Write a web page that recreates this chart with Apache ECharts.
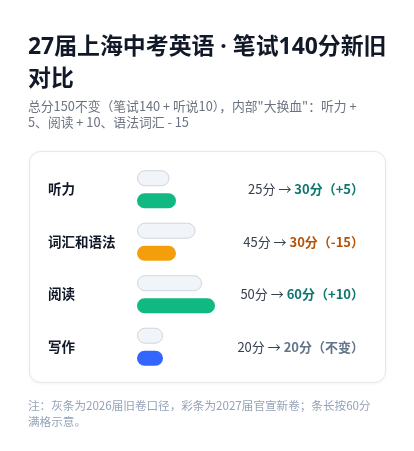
<!DOCTYPE html>
<html>
<head>
<meta charset="utf-8">
<script src="https://cdn.jsdelivr.net/npm/echarts@6/dist/echarts.min.js"></script>
<style>
html,body{margin:0;padding:0;background:#fff;}
#c{width:414px;height:451px;}
</style>
</head>
<body>
<div id="c"></div>
<script>
const categories = ['听力', '词汇和语法', '阅读', '写作'];
const oldScores = [25, 45, 50, 20];
const newScores = [30, 30, 60, 20];
const newColors = ['#10b981', '#f59e0b', '#10b981', '#3366ff'];
const fullScore = 60;
const titleText = '27届上海中考英语 · 笔试140分新旧\n对比';
const subtitleText = '总分150不变（笔试140 + 听说10），内部"大换血"：听力 +\n5、阅读 + 10、语法词汇 - 15';
const noteText = '注：灰条为2026届旧卷口径，彩条为2027届官宣新卷；条长按60分\n满格示意。';

const FONT = '"Noto Sans CJK SC", "Noto Sans", sans-serif';
const LATIN_FIRST = '"Noto Sans", "Noto Sans CJK SC", sans-serif';

const rightLabels = categories.map((c, i) => {
  const d = newScores[i] - oldScores[i];
  let style, tail;
  if (d > 0) { style = 'up'; tail = '（+' + d + '）'; }
  else if (d < 0) { style = 'down'; tail = '（-' + Math.abs(d) + '）'; }
  else { style = 'same'; tail = '（不变）'; }
  return '{base|' + oldScores[i] + '分 → }{' + style + '|' + newScores[i] + '分' + tail + '}';
});

const chart = echarts.init(document.getElementById('c'), null, {renderer: 'canvas'});
chart.setOption({
  backgroundColor: '#ffffff',
  animation: false,
  textStyle: {fontFamily: FONT},
  graphic: [
    {type: 'rect', z: 0, shape: {x: 29.5, y: 151.5, width: 356, height: 231, r: 11},
     style: {fill: '#ffffff', stroke: '#e5e7eb', lineWidth: 1, shadowBlur: 4, shadowColor: 'rgba(15,23,42,0.04)', shadowOffsetY: 1}},
    {type: 'text', left: 28, top: 31,
     style: {text: titleText, font: 'bold 22.9px ' + LATIN_FIRST, fill: '#111827', lineHeight: 32}},
    {type: 'text', left: 28, top: 98,
     style: {text: subtitleText, font: '12.8px ' + FONT, fill: '#6b7280', lineHeight: 16}},
    {type: 'text', left: 28, top: 397,
     style: {text: noteText, font: '11.6px ' + FONT, fill: '#94a3b8', lineHeight: 16.5}}
  ],
  grid: {left: 137, top: 163, width: 78, height: 210, containLabel: false},
  xAxis: {type: 'value', min: 0, max: fullScore, show: false},
  yAxis: [
    {type: 'category', data: categories, inverse: true,
     axisLine: {show: false}, axisTick: {show: false}, splitLine: {show: false},
     axisLabel: {align: 'left', margin: 89, fontSize: 13.5, fontWeight: 'bold', color: '#111827', fontFamily: FONT}},
    {type: 'category', data: rightLabels, inverse: true, position: 'right',
     axisLine: {show: false}, axisTick: {show: false}, splitLine: {show: false},
     axisLabel: {align: 'right', margin: 149, fontFamily: FONT,
       rich: {
         base: {fontSize: 13, color: '#374151', fontFamily: FONT},
         up: {fontSize: 13, color: '#0f766e', fontWeight: 'bold', fontFamily: FONT},
         down: {fontSize: 13, color: '#b45309', fontWeight: 'bold', fontFamily: FONT},
         same: {fontSize: 13, color: '#64748b', fontWeight: 'bold', fontFamily: FONT}
       }}}
  ],
  series: [
    {name: '2026旧卷', type: 'bar', yAxisIndex: 0, data: oldScores, barWidth: 16, barGap: '44%', z: 3,
     itemStyle: {color: '#f1f5f9', borderColor: '#d1d5db', borderWidth: 1, borderRadius: 8}},
    {name: '2027新卷', type: 'bar', yAxisIndex: 0, barWidth: 15, z: 3,
     data: newScores.map((v, i) => ({value: v, itemStyle: {color: newColors[i]}})),
     itemStyle: {borderRadius: 8}}
  ]
});
</script>
</body>
</html>
